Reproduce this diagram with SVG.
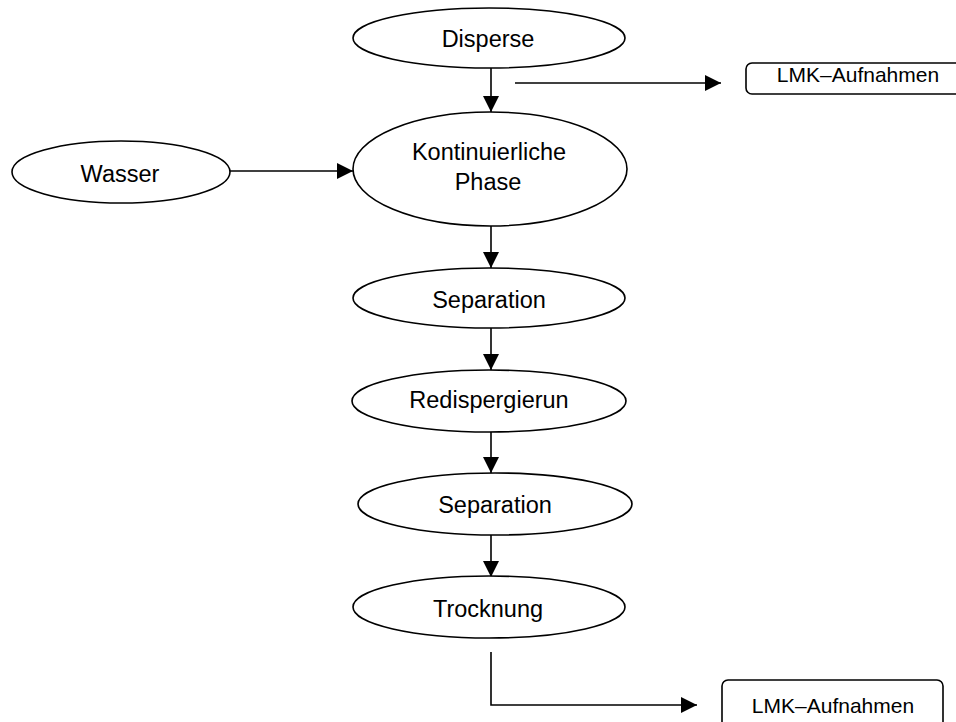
<svg xmlns="http://www.w3.org/2000/svg" width="956" height="722" viewBox="0 0 956 722">
<defs>
<style>
.n ellipse, .n rect { fill: #fff; stroke: #000; stroke-width: 1.6; }
.n text { font-family: "Liberation Sans", Arial, sans-serif; font-size: 23.5px; fill: #000; text-anchor: middle; }
.n text.s { font-size: 21px; }
#connectors line, #connectors polyline { stroke: #000; stroke-width: 1.6; fill: none; }
.arr { marker-end: url(#ah); }
</style>
<marker id="ah" markerUnits="userSpaceOnUse" markerWidth="16" markerHeight="16" refX="16" refY="8" orient="auto">
<path d="M0,0 L16,8 L0,16 z" fill="#000"/>
</marker>
</defs>
<rect width="956" height="722" fill="#fff"/>
<g id="connectors">
<line class="arr" x1="491" y1="68" x2="491" y2="112"/>
<line class="arr" x1="515" y1="83" x2="721" y2="83"/>
<line class="arr" x1="229" y1="171" x2="353" y2="171"/>
<line class="arr" x1="491" y1="226" x2="491" y2="268"/>
<line class="arr" x1="491" y1="328" x2="491" y2="370"/>
<line class="arr" x1="491" y1="432" x2="491" y2="473"/>
<line class="arr" x1="491" y1="535" x2="491" y2="577"/>
<polyline class="arr" points="491,652 491,705 697,705"/>
</g>
<g id="disperse" class="n">
<ellipse cx="489" cy="38" rx="136" ry="30"/>
<text x="488" y="47">Disperse</text>
</g>
<g id="lmk1" class="n">
<rect x="746" y="63" width="226" height="31" rx="6"/>
<text class="s" x="858" y="82">LMK–Aufnahmen</text>
</g>
<g id="wasser" class="n">
<ellipse cx="121" cy="172" rx="109" ry="31"/>
<text x="120" y="182">Wasser</text>
</g>
<g id="kontinuierliche" class="n">
<ellipse cx="490" cy="169" rx="137" ry="57"/>
<text x="489" y="160">Kontinuierliche</text>
<text x="488" y="190">Phase</text>
</g>
<g id="separation1" class="n">
<ellipse cx="489" cy="298" rx="136" ry="30"/>
<text x="489" y="308">Separation</text>
</g>
<g id="redispergierung" class="n">
<ellipse cx="489" cy="401" rx="137" ry="31"/>
<text x="489" y="408">Redispergierun</text>
</g>
<g id="separation2" class="n">
<ellipse cx="495" cy="504" rx="137" ry="31"/>
<text x="495" y="513">Separation</text>
</g>
<g id="trocknung" class="n">
<ellipse cx="489" cy="607" rx="136" ry="31"/>
<text x="488" y="617">Trocknung</text>
</g>
<g id="lmk2" class="n">
<rect x="722" y="680" width="221" height="60" rx="6"/>
<text class="s" x="833" y="713">LMK–Aufnahmen</text>
</g>
</svg>
